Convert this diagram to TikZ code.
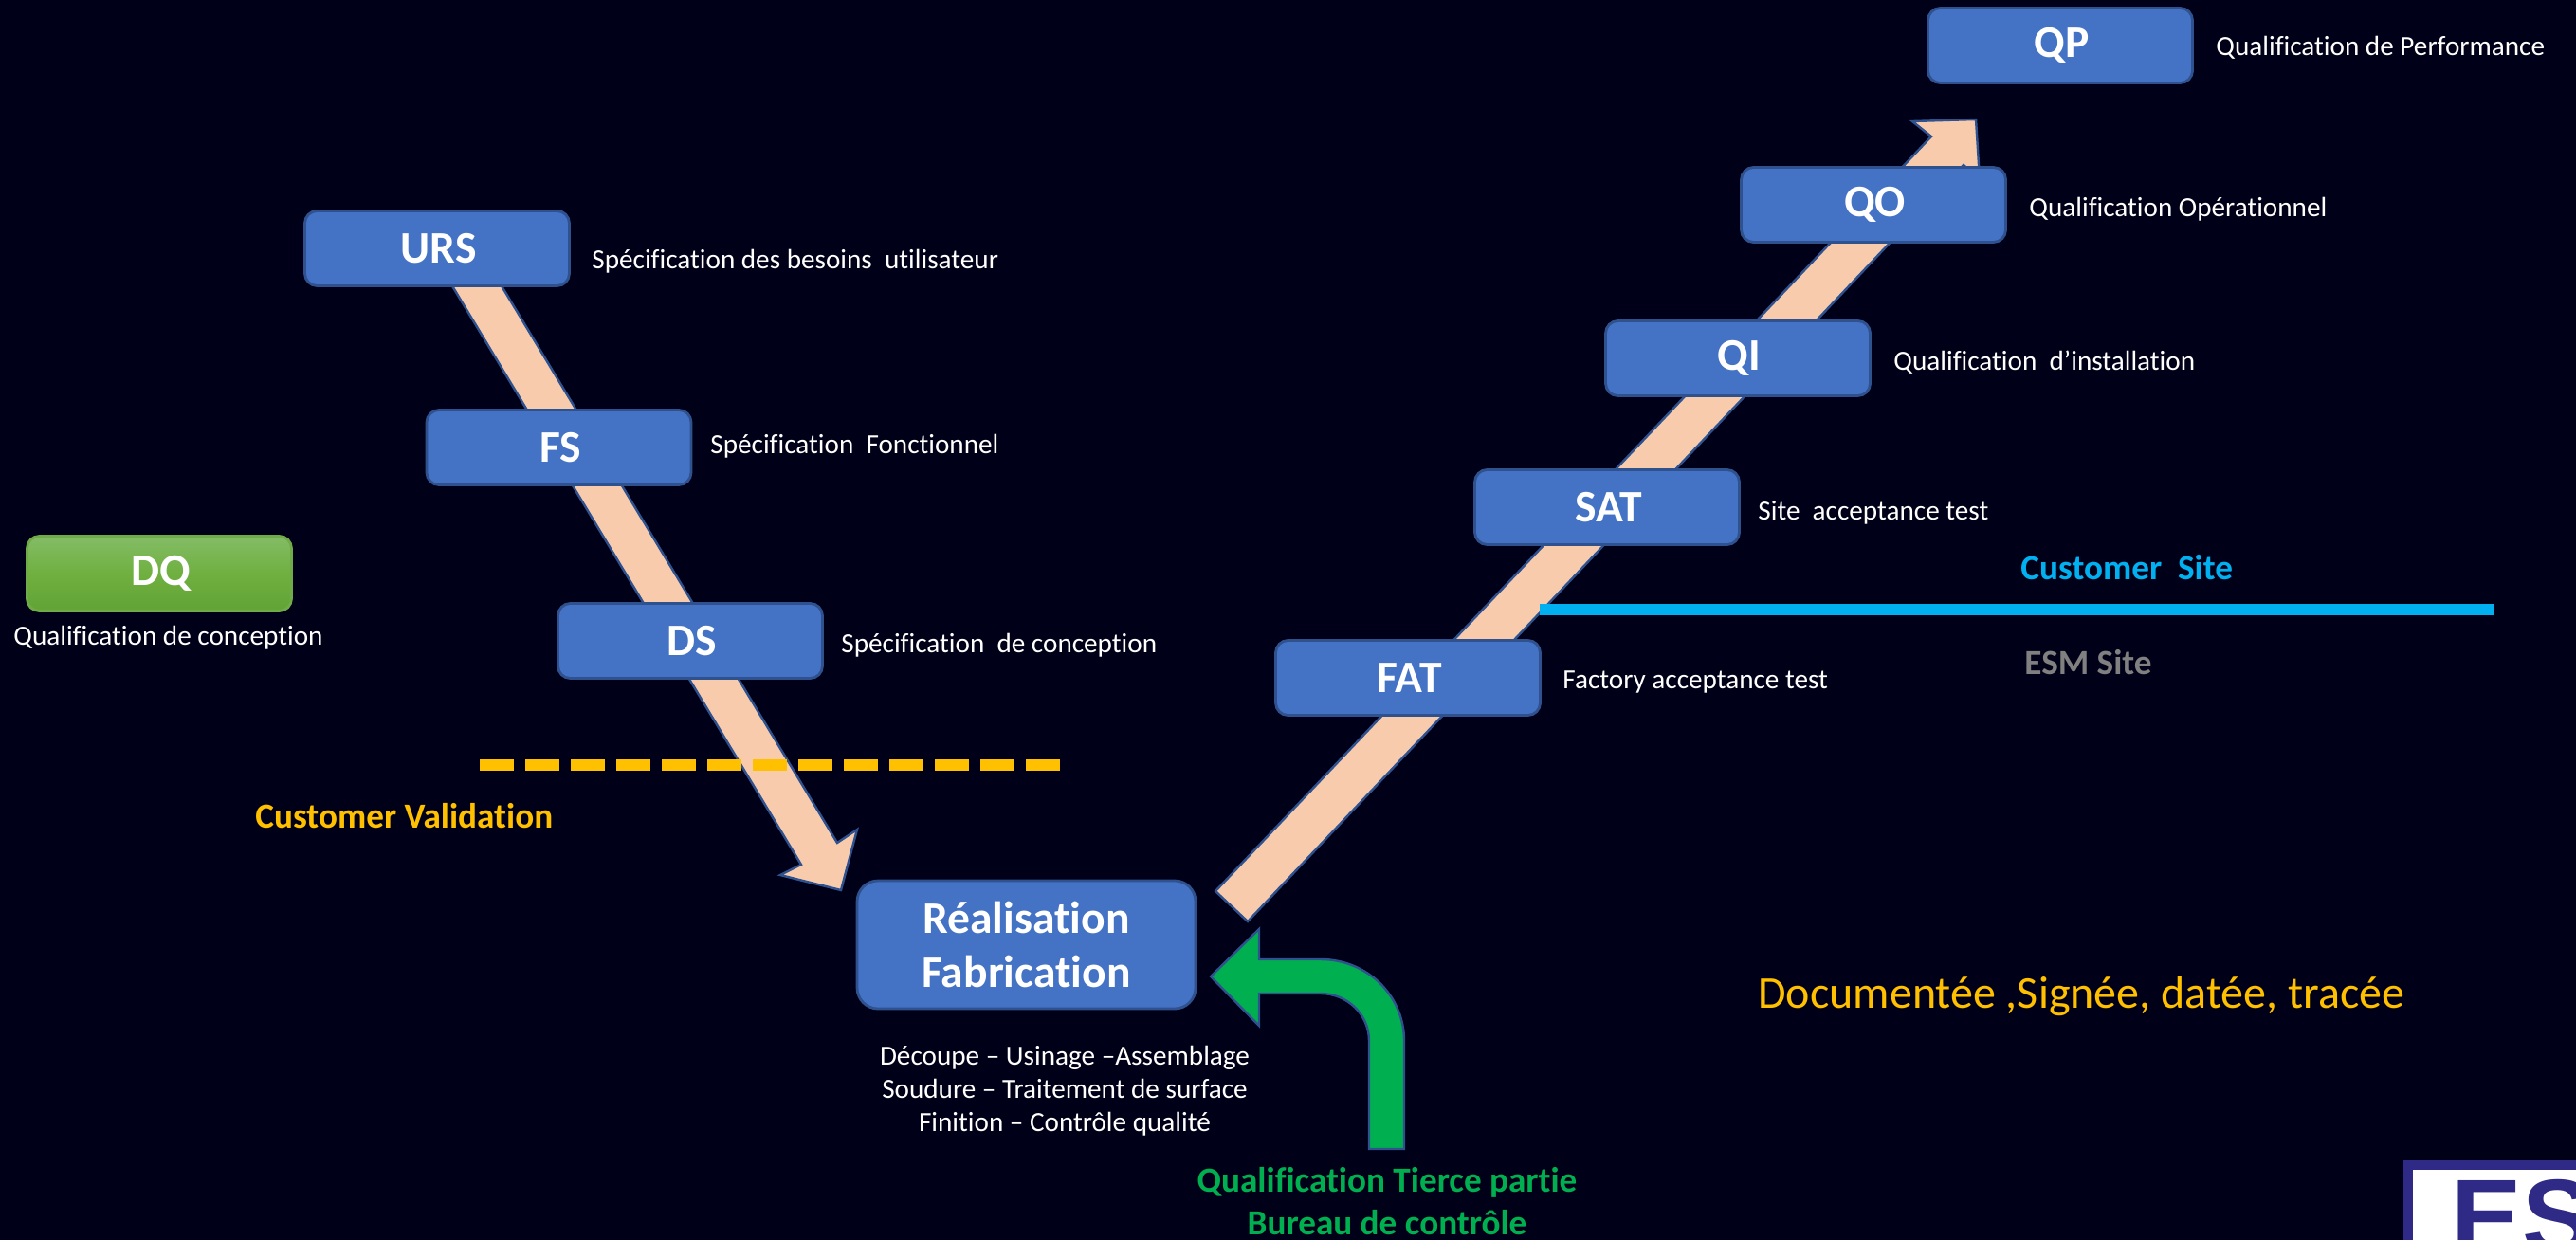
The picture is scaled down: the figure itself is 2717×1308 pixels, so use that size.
\documentclass[tikz,border=0pt]{standalone}
\usepackage{fontspec}
\setmainfont{Carlito}[Ligatures=NoCommon]
\newfontfamily\logofont{Liberation Sans}
\definecolor{bgnavy}{HTML}{000018}
\definecolor{boxblue}{HTML}{4472C4}
\definecolor{boxedge}{HTML}{2F528F}
\definecolor{peach}{HTML}{F8CBAD}
\definecolor{greenb}{HTML}{00B050}
\definecolor{amber}{HTML}{FFC000}
\definecolor{skyb}{HTML}{00B0F0}
\definecolor{logoblue}{HTML}{2F2A85}
\definecolor{greenedge}{HTML}{6FAB47}
\definecolor{dqtop}{HTML}{84BC66}
\definecolor{dqmid}{HTML}{6FB040}
\definecolor{dqbot}{HTML}{61A335}
\newcommand{\boxtext}[2][3.6pt]{\hspace{1.6pt}\raisebox{-#1}{#2}}
\tikzset{
  bx/.style={rounded corners=6.5pt,draw=boxedge,line width=1.4pt,fill=boxblue,text=white,
    minimum width=139.5pt,minimum height=39.5pt,inner sep=0pt,font=\fontsize{23.8}{28}\selectfont\bfseries,align=center},
  greenbx/.style={bx,draw=greenedge,top color=dqtop,bottom color=dqbot,middle color=dqmid},
  lbl/.style={anchor=base west,inner sep=0pt,text=white,font=\fontsize{14.6}{17}\selectfont},
  blockarrow/.style={draw=boxedge,line width=1.2pt,fill=peach,line join=miter},
  boldlbl/.style={anchor=base west,inner sep=0pt,font=\fontsize{18.6}{22}\selectfont\bfseries},
}
\begin{document}
\begin{tikzpicture}[x=0.5pt,y=-0.5pt]
\fill[bgnavy] (-10,-10) rectangle (2730,1320);
\pgfresetboundingbox
\useasboundingbox (0,0) rectangle (2717,1307.4);

% block arrows (below the boxes)
\draw[blockarrow] (470,290) -- (845,912) -- (823,923) -- (887,939) -- (904,875) -- (883,889) -- (522,290) -- cycle;
\draw[blockarrow] (1282,940) -- (2037,144) -- (2017,128) -- (2084,126) -- (2088,190) -- (2071,174) -- (1316,972) -- cycle;

% dashed and solid rules
\draw[amber,line width=6pt,dash pattern=on 18pt off 6pt] (506,807) -- (1118,807);
\draw[skyb,line width=6pt] (1624,643) -- (2631,643);

% boxes
\node[bx] (urs) at (461,262) {\boxtext{URS}};
\node[bx] (fs) at (589.5,472) {\boxtext{FS}};
\node[bx] (ds) at (728,676) {\boxtext{DS}};
\node[bx] (fat) at (1485,715) {\boxtext{FAT}};
\node[bx] (sat) at (1695,535) {\boxtext{SAT}};
\node[bx] (qi) at (1833,378) {\boxtext{QI}};
\node[bx] (qo) at (1976,216) {\boxtext{QO}};
\node[bx] (qp) at (2173,48) {\boxtext{QP}};
\node[greenbx] (dq) at (168,605) {\boxtext{DQ}};
\node[bx,minimum width=178.5pt,minimum height=67.5pt,rounded corners=11pt] (real) at (1082.5,996.5)
  {Réalisation\\[0.4pt]Fabrication};

% green bent arrow
\draw[draw=boxedge,line width=1.2pt,fill=greenb,line join=miter]
  (1277,1030) -- (1328,980) -- (1328,1012) -- (1393,1012)
  .. controls (1442,1012) and (1481,1050) .. (1481,1098)
  -- (1481,1212) -- (1444,1212) -- (1444,1098)
  .. controls (1444,1070) and (1421,1048) .. (1393,1048)
  -- (1328,1048) -- (1328,1082) -- cycle;

% descriptions
\node[lbl] (lurs) at (624,283) {Spécification des besoins~~utilisateur};
\node[lbl] (lfs) at (749,478) {Spécification~~Fonctionnel};
\node[lbl] (lds) at (887,688) {Spécification~~de conception};
\node[lbl] (ldq) at (14,680) {Qualification de conception};
\node[lbl] (lfat) at (1648,726) {Factory acceptance test};
\node[lbl] (lsat) at (1854,548) {Site~~acceptance test};
\node[lbl] (lqi) at (1997,390) {Qualification~~d’installation};
\node[lbl] (lqo) at (2140,228) {Qualification Opérationnel};
\node[lbl] (lqp) at (2337,58) {Qualification de Performance};

\node[lbl,anchor=base,align=center] (s1) at (1123,1123) {Découpe – Usinage –Assemblage};
\node[lbl,anchor=base,align=center] (s2) at (1123,1158) {Soudure – Traitement de surface};
\node[lbl,anchor=base,align=center] (s3) at (1123,1193) {Finition – Contrôle qualité};

\node[boldlbl,text=amber] (cv) at (269,873) {Customer Validation};
\node[boldlbl,text=skyb] (cs) at (2131,611) {Customer~~Site};
\node[boldlbl,text=gray] (es) at (2135,711) {ESM Site};
\node[boldlbl,anchor=base,text=greenb] (t1) at (1463,1257) {Qualification Tierce partie};
\node[boldlbl,anchor=base,text=greenb] (t2) at (1463,1302) {Bureau de contrôle};
\node[lbl,text=amber,font=\fontsize{24}{28}\selectfont] (doc) at (1854,1063) {Documentée ,Signée, datée, tracée};

% logo, cut by the page edge
\fill[logoblue] (2535,1224) rectangle (2730,1320);
\fill[white] (2545,1234) rectangle (2730,1320);
\begin{scope}
\clip (2545,1234) rectangle (2717,1308);
\node[anchor=base west,inner sep=0pt,text=logoblue,font=\logofont\fontsize{56}{60}\selectfont\bfseries] (logo) at (2585,1322) {ES};
\end{scope}
\end{tikzpicture}
\end{document}
